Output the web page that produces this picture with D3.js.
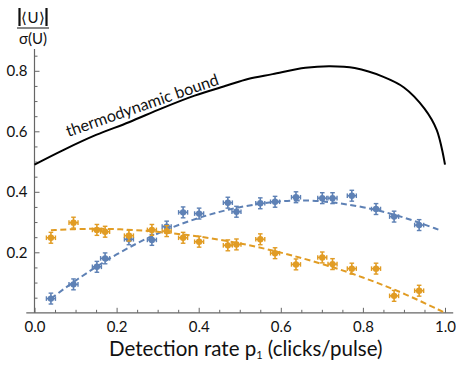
<!DOCTYPE html>
<html><head><meta charset="utf-8">
<script src="https://cdn.jsdelivr.net/npm/d3@7"></script>
<style>
html,body{margin:0;padding:0;background:#fff;}
svg{display:block;font-family:Lato,"Open Sans",sans-serif;}
</style></head>
<body>
<svg id="c" width="456" height="365"></svg>
<script>
// ---- data ----
const pX = [0.040,0.095,0.152,0.172,0.230,0.286,0.322,0.362,0.401,0.471,0.492,0.550,0.586,0.637,0.701,0.726,0.773,0.832,0.876,0.937];
const blueY = [0.047,0.094,0.152,0.180,0.243,0.241,0.285,0.332,0.328,0.364,0.334,0.362,0.367,0.382,0.379,0.379,0.387,0.343,0.318,0.290];
const orangeY = [0.248,0.298,0.274,0.268,0.255,0.274,0.270,0.248,0.235,0.223,0.226,0.243,0.197,0.160,0.183,0.161,0.146,0.146,0.056,0.073];
const xErr = 0.011;
const yErr = 0.018;
const blueFitX = [0.04,0.1,0.2,0.3,0.4,0.5,0.6,0.65,0.7,0.8,0.9,0.99];
const blueFitY = [0.047,0.108,0.196,0.265,0.316,0.352,0.370,0.372,0.370,0.352,0.317,0.272];
const orangeFitX = [0.04,0.1,0.15,0.2,0.3,0.4,0.5,0.6,0.7,0.8,0.9,1.0];
const orangeFitY = [0.273,0.277,0.278,0.277,0.269,0.253,0.231,0.200,0.163,0.118,0.065,0.0];
const boundX = [0,0.07,0.15,0.23,0.31,0.39,0.47,0.52,0.58,0.66,0.72,0.78,0.85,0.9,0.95,0.98,1.0];
const boundY = [0.49,0.538,0.588,0.630,0.676,0.718,0.752,0.773,0.789,0.810,0.815,0.809,0.78,0.745,0.675,0.604,0.49];
const xTicks = [0,0.2,0.4,0.6,0.8,1.0];
const yTicks = [0.2,0.4,0.6,0.8];
const xLabel = "Detection rate p";
const curveLabel = "thermodynamic bound";

// ---- chart ----
const svg = d3.select("#c");
const x = d3.scaleLinear().domain([0,1]).range([34.5,445]);
const y = d3.scaleLinear().domain([0,1]).range([312.8,10.3]);
const blue = "#5E81B5", orange = "#E19C24", axisCol = "#666";

const minorX = d3.range(0,1.0001,0.05).filter(v=>!xTicks.some(t=>Math.abs(t-v)<1e-6));
const minorY = d3.range(0.05,0.86,0.05).filter(v=>!yTicks.some(t=>Math.abs(t-v)<1e-6));

// axis lines
svg.append("line").attr("x1",x(-0.02)).attr("x2",x(1.02)).attr("y1",y(0)).attr("y2",y(0))
  .attr("stroke",axisCol).attr("stroke-width",1.2);
svg.append("line").attr("x1",x(0)).attr("x2",x(0)).attr("y1",y(0)).attr("y2",y(0.872))
  .attr("stroke",axisCol).attr("stroke-width",1.2);

// x axis
const gx = svg.append("g").attr("transform",`translate(0,${y(0)})`)
  .call(d3.axisBottom(x).tickValues(xTicks).tickFormat(d3.format(".1f")).tickSizeInner(-5).tickSizeOuter(0).tickPadding(9));
gx.select(".domain").remove();
gx.selectAll(".tick line").attr("stroke",axisCol);
gx.selectAll("text").attr("font-size",15).attr("fill","#111").attr("font-family","Lato");
const gxm = svg.append("g").attr("transform",`translate(0,${y(0)})`)
  .call(d3.axisBottom(x).tickValues(minorX).tickFormat("").tickSizeInner(-3).tickSizeOuter(0));
gxm.select(".domain").remove();
gxm.selectAll(".tick line").attr("stroke",axisCol);

// y axis
const gy = svg.append("g").attr("transform",`translate(${x(0)},0)`)
  .call(d3.axisLeft(y).tickValues(yTicks).tickFormat(d3.format(".1f")).tickSizeInner(-5).tickSizeOuter(0).tickPadding(7));
gy.select(".domain").remove();
gy.selectAll(".tick line").attr("stroke",axisCol);
gy.selectAll("text").attr("font-size",15).attr("fill","#111").attr("font-family","Lato");
const gym = svg.append("g").attr("transform",`translate(${x(0)},0)`)
  .call(d3.axisLeft(y).tickValues(minorY).tickFormat("").tickSizeInner(-3).tickSizeOuter(0));
gym.select(".domain").remove();
gym.selectAll(".tick line").attr("stroke",axisCol);

// x axis title
const t = svg.append("text").attr("x",x(0.5)+6).attr("y",356).attr("text-anchor","middle")
  .attr("font-size",20.5).attr("fill","#111");
t.append("tspan").text(xLabel);
t.append("tspan").attr("font-size",11).attr("dy",3).text("1");
t.append("tspan").attr("dy",-3).text(" (clicks/pulse)");

// y label (fraction)
const yl = svg.append("g");
yl.append("text").attr("x",33).attr("y",23).attr("text-anchor","middle").attr("font-size",15).attr("fill","#111").text("⟨U⟩");
yl.append("line").attr("x1",19.5).attr("x2",19.5).attr("y1",8).attr("y2",26).attr("stroke","#111").attr("stroke-width",2.2);
yl.append("line").attr("x1",46.5).attr("x2",46.5).attr("y1",8).attr("y2",26).attr("stroke","#111").attr("stroke-width",2.2);
yl.append("line").attr("x1",17).attr("x2",49).attr("y1",28).attr("y2",28).attr("stroke","#111").attr("stroke-width",1);
yl.append("text").attr("x",33).attr("y",44).attr("text-anchor","middle").attr("font-size",15).attr("fill","#111").text("σ(U)");

// thermodynamic bound
const line = d3.line().x(d=>x(d[0])).y(d=>y(d[1])).curve(d3.curveCatmullRom.alpha(0.5));
svg.append("path").datum(d3.zip(boundX,boundY)).attr("d",line)
  .attr("fill","none").attr("stroke","#000").attr("stroke-width",2);
svg.append("text").attr("transform",`translate(${x(0.082)},${y(0.581)}) rotate(-19.2)`)
  .attr("font-size",16.2).attr("fill","#111").text(curveLabel);

// fits
const sline = d3.line().x(d=>x(d[0])).y(d=>y(d[1])).curve(d3.curveBasis);
svg.append("path").datum(d3.zip(blueFitX,blueFitY)).attr("d",sline)
  .attr("fill","none").attr("stroke",blue).attr("stroke-width",2).attr("stroke-dasharray","6,3.5");
svg.append("path").datum(d3.zip(orangeFitX,orangeFitY)).attr("d",sline)
  .attr("fill","none").attr("stroke",orange).attr("stroke-width",2).attr("stroke-dasharray","6,3.5");

// points with error bars
function drawPts(ys,col){
  const g = svg.append("g");
  const pts = d3.zip(pX,ys);
  const e = g.selectAll("g").data(pts).join("g");
  e.append("line").attr("x1",d=>x(d[0]-xErr)).attr("x2",d=>x(d[0]+xErr)).attr("y1",d=>y(d[1])).attr("y2",d=>y(d[1]))
    .attr("stroke",col).attr("stroke-width",1.6);
  e.append("line").attr("x1",d=>x(d[0])).attr("x2",d=>x(d[0])).attr("y1",d=>y(d[1]-yErr)).attr("y2",d=>y(d[1]+yErr))
    .attr("stroke",col).attr("stroke-width",1.6);
  e.append("line").attr("x1",d=>x(d[0]-xErr)).attr("x2",d=>x(d[0]-xErr)).attr("y1",d=>y(d[1])-2.3).attr("y2",d=>y(d[1])+2.3).attr("stroke",col).attr("stroke-width",1.4);
  e.append("line").attr("x1",d=>x(d[0]+xErr)).attr("x2",d=>x(d[0]+xErr)).attr("y1",d=>y(d[1])-2.3).attr("y2",d=>y(d[1])+2.3).attr("stroke",col).attr("stroke-width",1.4);
  e.append("line").attr("x1",d=>x(d[0])-2.3).attr("x2",d=>x(d[0])+2.3).attr("y1",d=>y(d[1]-yErr)).attr("y2",d=>y(d[1]-yErr)).attr("stroke",col).attr("stroke-width",1.4);
  e.append("line").attr("x1",d=>x(d[0])-2.3).attr("x2",d=>x(d[0])+2.3).attr("y1",d=>y(d[1]+yErr)).attr("y2",d=>y(d[1]+yErr)).attr("stroke",col).attr("stroke-width",1.4);
  e.append("circle").attr("cx",d=>x(d[0])).attr("cy",d=>y(d[1])).attr("r",3.2).attr("fill",col);
}
drawPts(blueY,blue);
drawPts(orangeY,orange);
</script>
</body></html>
